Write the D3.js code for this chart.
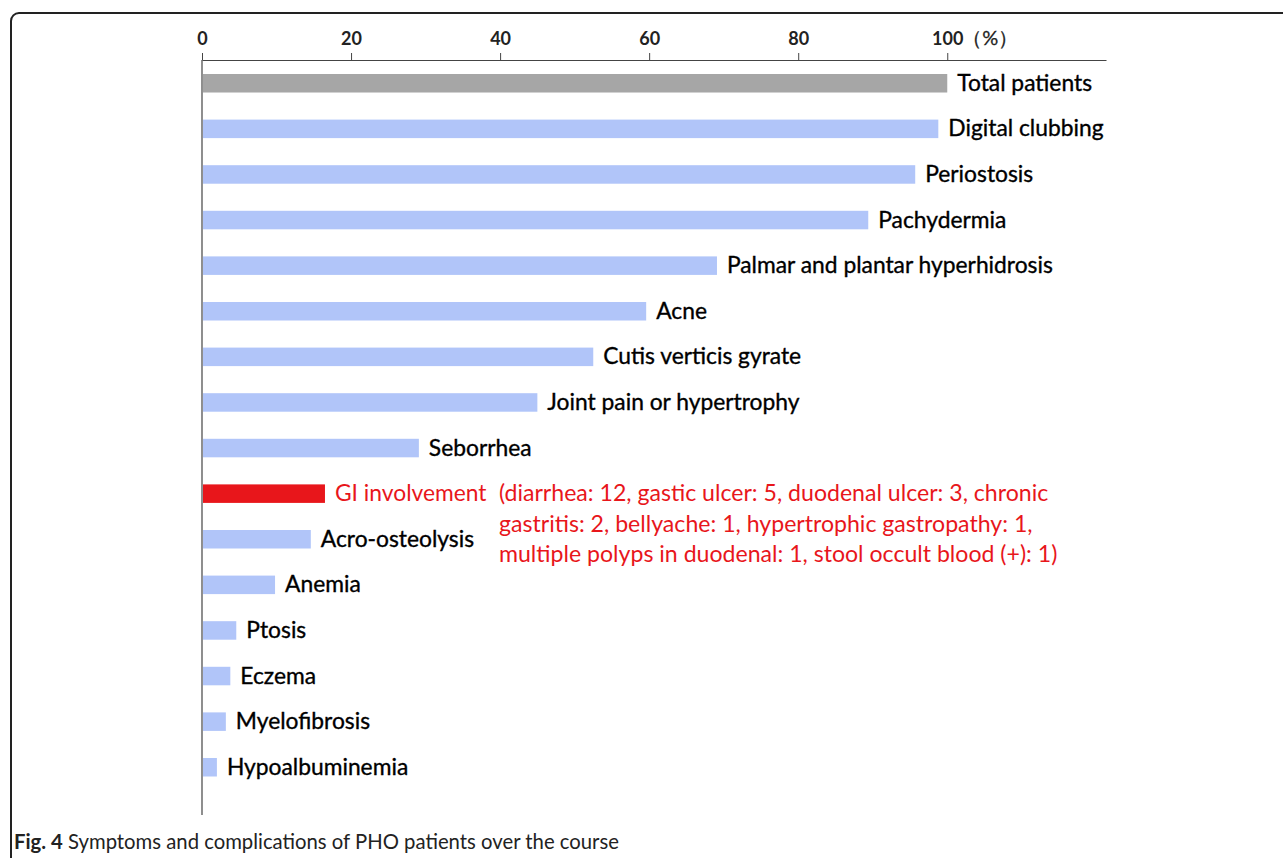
<!DOCTYPE html>
<html>
<head>
<meta charset="utf-8">
<script src="https://cdn.jsdelivr.net/npm/d3@7"></script>
<style>
    body { margin: 0; background: white; }
</style>
</head>
<body>
<div id="chart"></div>
<script>
//Chart data. Values are percentages of patients.
const categories = ["Total patients", "Digital clubbing", "Periostosis", "Pachydermia",
    "Palmar and plantar hyperhidrosis", "Acne", "Cutis verticis gyrate", "Joint pain or hypertrophy",
    "Seborrhea", "GI involvement", "Acro-osteolysis", "Anemia", "Ptosis", "Eczema",
    "Myelofibrosis", "Hypoalbuminemia"];
const percentages = [100, 98.8, 95.7, 89.4, 69.1, 59.6, 52.5, 45.0, 29.1, 16.5, 14.6, 9.8, 4.6, 3.8, 3.2, 2.0];
const tickValues = [0, 20, 40, 60, 80, 100];
const unitLabel = "（%）";
const totalCategory = "Total patients";
const highlightCategory = "GI involvement";
const giDetailLines = [
    "(diarrhea: 12, gastic ulcer: 5, duodenal ulcer: 3, chronic",
    "gastritis: 2, bellyache: 1, hypertrophic gastropathy: 1,",
    "multiple polyps in duodenal: 1, stool occult blood (+): 1)"
];
const captionBold = "Fig. 4";
const captionText = " Symptoms and complications of PHO patients over the course";

const labelFont = "Lato, 'Open Sans', sans-serif";
const red = "#e8161b";

let svg = d3.select("#chart").append("svg")
    .attr("width", 1283)
    .attr("height", 858);

//Rounded frame around the figure, runs off the right and bottom edges
svg.append("rect")
    .attr("x", 11)
    .attr("y", 13)
    .attr("width", 1400)
    .attr("height", 1000)
    .attr("rx", 8)
    .attr("fill", "none")
    .attr("stroke", "#222")
    .attr("stroke-width", 2);

let xScale = d3.scaleLinear()
    .domain([0, 121.3])
    .range([202, 1106]);

let yScale = d3.scaleBand()
    .domain(categories)
    .range([74, 776.5])
    .paddingInner(0.594)
    .paddingOuter(0)
    .align(0);

//Top axis
let axis = svg.append("g")
    .attr("transform", "translate(0, 60)")
    .call(d3.axisTop(xScale)
        .tickValues(tickValues)
        .tickSize(7)
        .tickSizeOuter(0)
        .tickFormat(d3.format("d")));
axis.select(".domain").attr("stroke", "#444").attr("stroke-width", 1.2);
axis.selectAll(".tick line").attr("stroke", "#444");
axis.selectAll(".tick text")
    .attr("y", -15)
    .attr("dy", 0)
    .style("font-family", labelFont)
    .style("font-weight", "bold")
    .style("font-size", "18px")
    .attr("fill", "#222");

//Unit label sits just after the 100 tick
svg.append("text")
    .attr("x", xScale(100) + 15)
    .attr("y", 45)
    .style("font-family", labelFont)
    .style("font-size", "20px")
    .attr("fill", "#222")
    .attr("stroke", "#222")
    .attr("stroke-width", 0.3)
    .text(unitLabel);

//Vertical baseline
svg.append("line")
    .attr("x1", xScale(0))
    .attr("x2", xScale(0))
    .attr("y1", 60)
    .attr("y2", 815)
    .attr("stroke", "#444")
    .attr("stroke-width", 1.2);

function barColour(name) {
    if (name === totalCategory) return "#a6a6a6";
    if (name === highlightCategory) return red;
    return "#b1c5f9";
}

const rows = categories.map((c, i) => ({name: c, value: percentages[i]}));

svg.selectAll(".bar")
    .data(rows)
    .enter()
    .append("rect")
    .attr("class", "bar")
    .attr("x", xScale(0) + 1)
    .attr("y", d => yScale(d.name))
    .attr("width", d => xScale(d.value) - xScale(0) - 1)
    .attr("height", yScale.bandwidth())
    .attr("fill", d => barColour(d.name));

svg.selectAll(".barLabel")
    .data(rows)
    .enter()
    .append("text")
    .attr("class", "barLabel")
    .attr("x", d => xScale(d.value) + 10)
    .attr("y", d => yScale(d.name) + yScale.bandwidth() / 2 + 7.5)
    .style("font-family", labelFont)
    .style("font-size", "22.8px")
    .attr("fill", d => d.name === highlightCategory ? red : "#000")
    .attr("stroke", d => d.name === highlightCategory ? "none" : "#000")
    .attr("stroke-width", 0.35)
    .text(d => d.name);

//Breakdown of GI involvement next to its bar
const giY = yScale(highlightCategory) + yScale.bandwidth() / 2 + 7.5;
svg.append("text")
    .attr("y", giY)
    .style("font-family", labelFont)
    .style("font-size", "23.1px")
    .attr("fill", red)
    .selectAll("tspan")
    .data(giDetailLines)
    .enter()
    .append("tspan")
    .attr("x", 499)
    .attr("dy", (d, i) => i === 0 ? 0 : 30.5)
    .text(d => d);

//Caption
let caption = svg.append("text")
    .attr("x", 14)
    .attr("y", 849)
    .style("font-family", labelFont)
    .style("font-size", "20.3px")
    .attr("fill", "#222");
caption.append("tspan").style("font-weight", "bold").text(captionBold);
caption.append("tspan").text(captionText);
</script>
</body>
</html>
